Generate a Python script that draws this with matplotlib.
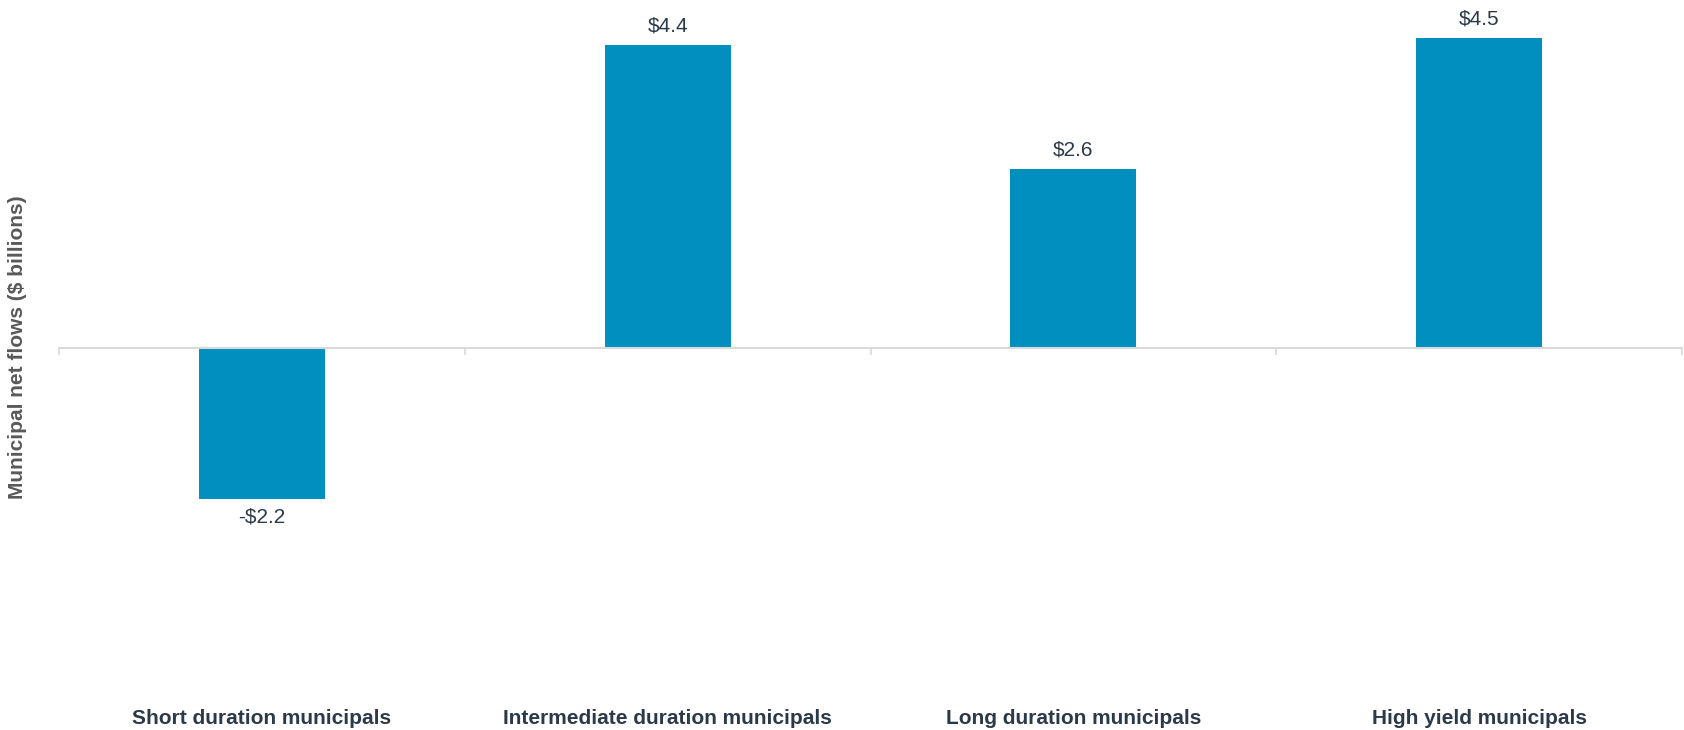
import matplotlib
matplotlib.use("Agg")
import matplotlib.pyplot as plt
import matplotlib.transforms as mtransforms

plt.rcParams['font.family'] = ['Liberation Sans', 'DejaVu Sans']

categories = ['Short duration municipals', 'Intermediate duration municipals',
              'Long duration municipals', 'High yield municipals']
net_flows = [-2.2, 4.4, 2.6, 4.5]
value_labels = ['-$2.2', '$4.4', '$2.6', '$4.5']

bar_color = '#008FBF'
text_color = '#2B3A4A'
axis_color = '#D9D9D9'

fig = plt.figure(figsize=(16.84, 7.30), dpi=100)
ax = fig.add_axes([59/1684, 38/730, 1623/1684, 688/730])

x = range(len(categories))
bars = ax.bar(x, net_flows, width=0.31, color=bar_color, zorder=2)

ax.set_xlim(-0.5, len(categories) - 0.5)
ax.set_ylim(-5, 5)

for s in ['top', 'right', 'left']:
    ax.spines[s].set_visible(False)
ax.spines['bottom'].set_position(('data', 0))
ax.spines['bottom'].set_color(axis_color)
ax.spines['bottom'].set_linewidth(1.5)
ax.set_yticks([])
ax.set_xticks([i - 0.5 for i in range(len(categories) + 1)])
ax.set_xticklabels([])
ax.tick_params(axis='x', length=5, width=1.2, color=axis_color, direction='out')

# value labels above / below each bar
for b, v, lab in zip(bars, net_flows, value_labels):
    off = 14 if v >= 0 else -13
    ax.annotate(lab, (b.get_x() + b.get_width() / 2, v), xytext=(0, off),
                textcoords='offset points', ha='center', va='center',
                fontsize=15, color=text_color)

# category names sit at the bottom of the plot, not on the zero line
trans = mtransforms.blended_transform_factory(ax.transData, ax.transAxes)
for i, c in enumerate(categories):
    ax.text(i, -0.038, c, transform=trans, ha='center', va='center',
            fontsize=15, fontweight='bold', color=text_color)

fig.text(18/1684, 383/730, 'Municipal net flows ($ billions)', rotation=90,
         ha='center', va='center', fontsize=15, fontweight='bold', color='#595959')

fig.savefig('out.png', dpi=100)
